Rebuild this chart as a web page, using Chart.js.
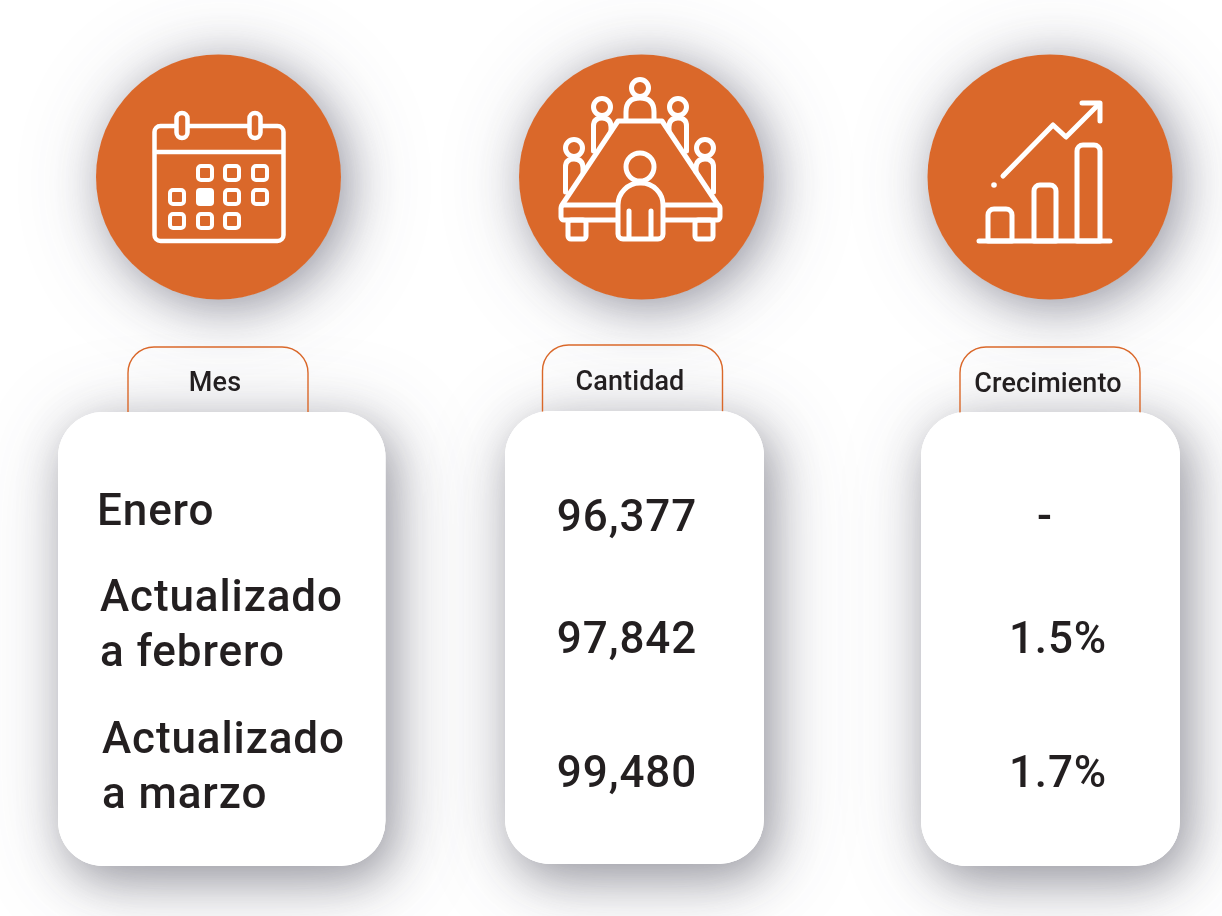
<!DOCTYPE html>
<html>
<head>
<meta charset="utf-8">
<title>Mes, cantidad y crecimiento</title>
<script src="https://cdn.jsdelivr.net/npm/chart.js@4"></script>
<style>
  html, body { margin: 0; background: #fff; }
  canvas { display: block; }
</style>
</head>
<body>
<canvas id="infoChart" width="1222" height="916"></canvas>
<script>
// Data
const headers = ['Mes', 'Cantidad', 'Crecimiento'];
const months = ['Enero', 'Actualizado a febrero', 'Actualizado a marzo'];
const quantities = [96377, 97842, 99480];
const growth = [null, 1.5, 1.7];

const ORANGE = '#DA682A';
const INK = '#231F20';
const FONT = 'Roboto, sans-serif';

// Layout of the panels (the picture is a table, not a plot)
const columns = [
    { circle: [218.5, 177], card: [58, 412, 327.5, 454], tab: [128, 347, 180], head: [215, 391] },
    { circle: [641.5, 177], card: [505, 411, 259, 453], tab: [542.5, 345, 180], head: [630, 390] },
    { circle: [1050, 177], card: [921, 412, 259, 454], tab: [960, 347, 180], head: [1048, 392] }
];
const monthLines = [
    [[97, 525, 'Enero']],
    [[100, 611, 'Actualizado'], [100, 666, 'a febrero']],
    [[102, 753, 'Actualizado'], [102, 808, 'a marzo']]
];
const rowBaselines = [531, 653, 787];

function shadowed(ctx, dx, dy, blur, color, draw) {
    ctx.save();
    ctx.shadowColor = color;
    ctx.shadowBlur = blur;
    ctx.shadowOffsetX = dx;
    ctx.shadowOffsetY = dy;
    ctx.fillStyle = '#fff';
    draw();
    ctx.restore();
}

function box(ctx, x, y, w, h, r) {
    ctx.beginPath();
    ctx.roundRect(x, y, w, h, r);
    ctx.stroke();
}

function ring(ctx, x, y, r) {
    ctx.beginPath();
    ctx.arc(x, y, r, 0, Math.PI * 2);
    ctx.stroke();
}

function poly(ctx, pts) {
    ctx.beginPath();
    pts.forEach((p, i) => i ? ctx.lineTo(p[0], p[1]) : ctx.moveTo(p[0], p[1]));
    ctx.stroke();
}

function calendarIcon(ctx) {
    ctx.lineWidth = 4.5;
    box(ctx, 154.5, 126, 129, 115, 6);
    poly(ctx, [[155, 152], [283, 152]]);
    // rings
    [182, 255].forEach(x => {
        ctx.fillStyle = ORANGE;
        ctx.beginPath();
        ctx.roundRect(x - 5.5, 113, 11, 25, 5.5);
        ctx.fill();
        ctx.stroke();
    });
    // day cells
    ctx.lineWidth = 4;
    const cells = [[205, 173], [232, 173], [260, 173], [177, 197], [232, 197], [260, 197], [177, 221], [205, 221], [232, 221]];
    cells.forEach(c => box(ctx, c[0] - 7, c[1] - 7, 14, 14, 3));
    ctx.fillStyle = '#fff';
    ctx.beginPath();
    ctx.roundRect(196, 188, 18, 18, 4);
    ctx.fill();
}

function sidePerson(ctx, hx, hy, side) {
    // side: -1 left of table, 1 right of table
    ring(ctx, hx, hy, 8.5);
    const top = hy + 11;
    const outer = hx + side * 8.5;
    const inner = hx - side * 9;
    ctx.beginPath();
    ctx.moveTo(outer, top + 33);
    ctx.lineTo(outer, top + 8);
    ctx.quadraticCurveTo(outer, top, hx, top);
    ctx.quadraticCurveTo(inner, top, inner, top + 9);
    ctx.lineTo(inner, top + 13);
    ctx.stroke();
}

function meetingIcon(ctx) {
    ctx.lineWidth = 5;
    // table
    poly(ctx, [[562, 205], [618, 121], [662, 121], [718, 205]]);
    box(ctx, 561, 205, 159, 15, 3);
    box(ctx, 568, 220, 18, 19, 3);
    box(ctx, 695, 220, 18, 19, 3);
    // people around the table
    ring(ctx, 640, 88, 8.5);
    ctx.beginPath();
    ctx.moveTo(626, 120);
    ctx.lineTo(626, 112);
    ctx.quadraticCurveTo(626, 98, 640, 98);
    ctx.quadraticCurveTo(654, 98, 654, 112);
    ctx.lineTo(654, 120);
    ctx.stroke();
    sidePerson(ctx, 602, 107, -1);
    sidePerson(ctx, 678, 107, 1);
    sidePerson(ctx, 574, 148, -1);
    sidePerson(ctx, 705, 148, 1);
    // person in front
    ctx.fillStyle = ORANGE;
    ctx.beginPath();
    ctx.roundRect(618, 183, 45, 56, [22, 22, 5, 5]);
    ctx.fill();
    ctx.stroke();
    ring(ctx, 640, 167, 14);
    poly(ctx, [[629, 211], [629, 238]]);
    poly(ctx, [[651, 211], [651, 238]]);
}

function growthIcon(ctx) {
    ctx.lineWidth = 5;
    poly(ctx, [[979, 241], [1110, 241]]);
    box(ctx, 988, 209, 24, 32, [6, 6, 0, 0]);
    box(ctx, 1034, 185, 22, 56, [6, 6, 0, 0]);
    box(ctx, 1077, 145, 23, 96, [6, 6, 0, 0]);
    poly(ctx, [[1003, 176], [1053, 125], [1066, 137], [1099, 104]]);
    poly(ctx, [[1082, 103], [1100, 103], [1100, 121]]);
    ctx.fillStyle = '#fff';
    ctx.beginPath();
    ctx.arc(994, 185, 2.8, 0, Math.PI * 2);
    ctx.fill();
}

// Draws the panels, icons and the table values taken from the chart data
const infographic = {
    id: 'infographic',
    beforeDraw(chart) {
        const ctx = chart.ctx;
        ctx.save();
        ctx.fillStyle = '#fff';
        ctx.fillRect(0, 0, chart.width, chart.height);

        // shadows first so they stay behind every panel
        columns.forEach(col => {
            const circle = () => {
                ctx.beginPath();
                ctx.arc(col.circle[0], col.circle[1], 122, 0, Math.PI * 2);
                ctx.fill();
            };
            const card = () => {
                ctx.beginPath();
                ctx.roundRect(col.card[0], col.card[1], col.card[2], col.card[3], 45);
                ctx.fill();
            };
            shadowed(ctx, 6, 6, 90, 'rgba(70,70,90,0.22)', circle);
            shadowed(ctx, 8, 8, 45, 'rgba(60,60,80,0.42)', circle);
            shadowed(ctx, 8, 12, 90, 'rgba(70,70,90,0.22)', card);
            shadowed(ctx, 8, 14, 45, 'rgba(60,60,75,0.42)', card);
        });
        columns.forEach(col => {
            ctx.strokeStyle = ORANGE;
            ctx.lineWidth = 1.4;
            const t = col.tab;
            ctx.beginPath();
            ctx.roundRect(t[0], t[1], t[2], 90, [26, 26, 0, 0]);
            ctx.stroke();

            ctx.fillStyle = '#fff';
            ctx.beginPath();
            ctx.roundRect(col.card[0], col.card[1], col.card[2], col.card[3], 45);
            ctx.fill();

            ctx.fillStyle = ORANGE;
            ctx.beginPath();
            ctx.arc(col.circle[0], col.circle[1], 122.5, 0, Math.PI * 2);
            ctx.fill();
        });

        ctx.strokeStyle = '#fff';
        ctx.lineCap = 'round';
        ctx.lineJoin = 'round';
        calendarIcon(ctx);
        meetingIcon(ctx);
        growthIcon(ctx);
        ctx.restore();
    },
    afterDraw(chart) {
        const ctx = chart.ctx;
        ctx.save();
        ctx.fillStyle = INK;
        ctx.textBaseline = 'alphabetic';

        // tab headers
        ctx.textAlign = 'center';
        ctx.font = '500 27px ' + FONT;
        ctx.letterSpacing = '0.1px';
        chart.data.datasets[0].headers.forEach((h, i) => {
            ctx.fillText(h, columns[i].head[0], columns[i].head[1]);
        });

        // month column
        ctx.textAlign = 'left';
        ctx.font = '500 44px ' + FONT;
        ctx.letterSpacing = '0.9px';
        monthLines.forEach(lines => {
            lines.forEach(l => ctx.fillText(l[2], l[0], l[1]));
        });

        // quantity column
        ctx.textAlign = 'center';
        chart.data.datasets[0].data.forEach((v, i) => {
            ctx.fillText(v.toLocaleString('en-US'), 627, rowBaselines[i]);
        });

        // growth column
        chart.data.datasets[1].data.forEach((v, i) => {
            if (v === null) {
                ctx.fillText('-', 1045, rowBaselines[i] - 1);
            } else {
                ctx.fillText(v.toFixed(1) + '%', 1058, rowBaselines[i]);
            }
        });
        ctx.restore();
    }
};

new Chart(document.getElementById('infoChart'), {
    type: 'bar',
    data: {
        labels: months,
        datasets: [
            { label: headers[1], data: quantities, headers: headers, backgroundColor: 'transparent' },
            { label: headers[2], data: growth, backgroundColor: 'transparent' }
        ]
    },
    options: {
        responsive: false,
        animation: false,
        events: [],
        layout: { padding: 0 },
        scales: { x: { display: false }, y: { display: false } },
        plugins: { legend: { display: false }, title: { display: false }, tooltip: { enabled: false } }
    },
    plugins: [infographic]
});
</script>
</body>
</html>
